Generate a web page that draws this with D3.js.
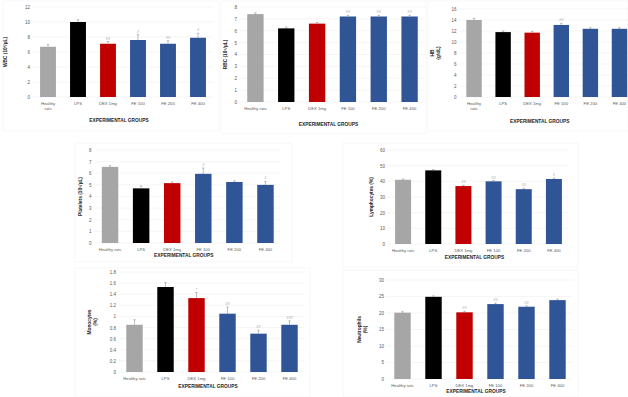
<!DOCTYPE html>
<html>
<head>
<meta charset="utf-8">
<script src="https://cdn.jsdelivr.net/npm/d3@7"></script>
<style>
  html, body { margin: 0; padding: 0; background: #fff; }
  svg { display: block; font-family: "Liberation Sans", Arial, sans-serif; }
</style>
</head>
<body>
<svg id="chart" width="628" height="397"></svg>
<script>
// Groups (same for every panel)
const groups = ['Healthy rats', 'LPS', 'DEX 1mg', 'FE 100', 'FE 200', 'FE 400'];
const groupColors = ['#a6a6a6', '#000000', '#c00000', '#2f5597', '#2f5597', '#2f5597'];
const xTitle = 'EXPERIMENTAL GROUPS';

// Values per panel
const wbcValues = [6.7, 10.0, 7.1, 7.6, 7.1, 7.9];
const wbcErrors = [0.3, 0.3, 0.3, 0.7, 0.4, 0.6];
const wbcMarks = ['', '', '##', '#', '##', '#'];
const wbcTicks = [0, 2, 4, 6, 8, 10, 12];

const rbcValues = [7.4, 6.2, 6.6, 7.2, 7.2, 7.2];
const rbcErrors = [0.1, 0.1, 0.1, 0.1, 0.1, 0.1];
const rbcMarks = ['', '', '', '##', '##', '##'];
const rbcTicks = [0, 1, 2, 3, 4, 5, 6, 7, 8];

const hbValues = [14.0, 11.8, 11.7, 13.1, 12.4, 12.4];
const hbErrors = [0.3, 0.2, 0.2, 0.3, 0.2, 0.2];
const hbMarks = ['', '', '', '##', '', ''];
const hbTicks = [0, 2, 4, 6, 8, 10, 12, 14, 16];

const pltValues = [6.55, 4.7, 5.15, 5.95, 5.25, 5.0];
const pltErrors = [0.1, 0.2, 0.1, 0.5, 0.1, 0.3];
const pltMarks = ['', '', '', '#', '', '#'];
const pltTicks = [0, 1, 2, 3, 4, 5, 6, 7, 8];

const lymValues = [41, 47, 37, 40, 35, 41.5];
const lymErrors = [0.5, 0.5, 0.5, 0.5, 0.5, 0.5];
const lymMarks = ['', '', '##', '##', '##', '#'];
const lymTicks = [0, 10, 20, 30, 40, 50, 60];

const monoValues = [0.85, 1.53, 1.33, 1.05, 0.69, 0.85];
const monoErrors = [0.09, 0.08, 0.1, 0.12, 0.06, 0.07];
const monoMarks = ['', '', '*', '##', '##', '###'];
const monoTicks = [0, 0.2, 0.4, 0.6, 0.8, 1, 1.2, 1.4, 1.6, 1.8];

const neuValues = [20.1, 24.9, 20.2, 22.7, 21.9, 23.9];
const neuErrors = [0.3, 0.3, 0.3, 0.3, 0.3, 0.3];
const neuMarks = ['', '', '##', '##', '##', ''];
const neuTicks = [0, 5, 10, 15, 20, 25, 30];

// Layout of each panel (page pixels)
const panels = [
  { values: wbcValues, errors: wbcErrors, marks: wbcMarks, ticks: wbcTicks, yTitle: ['WBC (10³/µL)'],
    frame: [3, 1, 216, 130], x0: 33, x1: 213, top: 7, bottom: 97, yTitleX: 7, titleDy: 25, wrap: true },
  { values: rbcValues, errors: rbcErrors, marks: rbcMarks, ticks: rbcTicks, yTitle: ['RBC (10⁶/µL)'],
    frame: [221, 1, 205, 133], x0: 240, x1: 425, top: 7, bottom: 102, yTitleX: 227, titleDy: 24, wrap: false },
  { values: hbValues, errors: hbErrors, marks: hbMarks, ticks: hbTicks, yTitle: ['HB', '(g/dL)'],
    frame: [428, 1, 200, 130], x0: 459.5, x1: 634, top: 9, bottom: 97, yTitleX: 434, titleDy: 26, wrap: true },
  { values: pltValues, errors: pltErrors, marks: pltMarks, ticks: pltTicks, yTitle: ['Platelets (10⁵/µL)'],
    frame: [75, 143, 217, 119], x0: 94.5, x1: 281, top: 150, bottom: 243, yTitleX: 82, titleDy: 14, wrap: false },
  { values: lymValues, errors: lymErrors, marks: lymMarks, ticks: lymTicks, yTitle: ['Lymphocytes (%)'],
    frame: [343, 143, 235, 124], x0: 388, x1: 569, top: 150, bottom: 244, yTitleX: 373, titleDy: 15, wrap: false },
  { values: monoValues, errors: monoErrors, marks: monoMarks, ticks: monoTicks, yTitle: ['Monocytes', '(%)'],
    frame: [75, 268, 235, 129], x0: 119, x1: 305, top: 272, bottom: 372, yTitleX: 91, titleDy: 16, wrap: false },
  { values: neuValues, errors: neuErrors, marks: neuMarks, ticks: neuTicks, yTitle: ['Neutrophils', '(%)'],
    frame: [343, 270, 235, 127], x0: 387, x1: 573, top: 280, bottom: 379, yTitleX: 361, titleDy: 14, wrap: false },
];

const svg = d3.select('#chart');

function drawPanel(p) {
  const g = svg.append('g').attr('class', 'panel');

  g.append('rect')
    .attr('x', p.frame[0]).attr('y', p.frame[1])
    .attr('width', p.frame[2]).attr('height', p.frame[3])
    .attr('fill', '#fff')
    .attr('stroke', '#f4f4f4')
    .attr('stroke-width', 0.8);

  const xScale = d3.scaleBand()
    .domain(groups)
    .range([p.x0, p.x1])
    .paddingInner(0.47)
    .paddingOuter(0.235);

  const yScale = d3.scaleLinear()
    .domain([0, d3.max(p.ticks)])
    .range([p.bottom, p.top]);

  // gridlines
  g.append('g')
    .selectAll('line')
    .data(p.ticks)
    .enter()
    .append('line')
    .attr('x1', p.x0)
    .attr('x2', Math.min(p.x1, 628))
    .attr('y1', d => yScale(d))
    .attr('y2', d => yScale(d))
    .attr('stroke', '#efefef')
    .attr('stroke-width', 0.6);

  // y axis
  const yAxis = d3.axisLeft(yScale)
    .tickValues(p.ticks)
    .tickSize(0)
    .tickPadding(3)
    .tickFormat(d3.format('~g'));

  const gy = g.append('g')
    .attr('transform', `translate(${p.x0}, 0)`)
    .call(yAxis);
  gy.select('.domain').remove();
  gy.selectAll('text')
    .attr('font-size', 4.5)
    .attr('fill', '#595959');

  // bars
  g.append('g')
    .selectAll('rect')
    .data(p.values)
    .enter()
    .append('rect')
    .attr('x', (d, i) => xScale(groups[i]))
    .attr('y', d => yScale(d))
    .attr('width', xScale.bandwidth())
    .attr('height', d => p.bottom - yScale(d))
    .attr('fill', (d, i) => groupColors[i]);

  // error bars
  const err = g.append('g')
    .selectAll('g')
    .data(p.values)
    .enter()
    .append('g')
    .attr('stroke', '#7f7f7f')
    .attr('stroke-width', 0.5);
  err.append('line')
    .attr('x1', (d, i) => xScale(groups[i]) + xScale.bandwidth() / 2)
    .attr('x2', (d, i) => xScale(groups[i]) + xScale.bandwidth() / 2)
    .attr('y1', d => yScale(d))
    .attr('y2', (d, i) => yScale(d + p.errors[i]));
  err.append('line')
    .attr('x1', (d, i) => xScale(groups[i]) + xScale.bandwidth() / 2 - 1.2)
    .attr('x2', (d, i) => xScale(groups[i]) + xScale.bandwidth() / 2 + 1.2)
    .attr('y1', (d, i) => yScale(d + p.errors[i]))
    .attr('y2', (d, i) => yScale(d + p.errors[i]));

  // significance marks
  g.append('g')
    .selectAll('text')
    .data(p.values)
    .enter()
    .append('text')
    .attr('x', (d, i) => xScale(groups[i]) + xScale.bandwidth() / 2)
    .attr('y', (d, i) => yScale(d + p.errors[i]) - 2)
    .attr('text-anchor', 'middle')
    .attr('font-size', 4)
    .attr('fill', '#7f7f7f')
    .text((d, i) => p.marks[i]);

  // x labels
  const xl = g.append('g')
    .selectAll('text')
    .data(groups)
    .enter()
    .append('text')
    .attr('x', d => xScale(d) + xScale.bandwidth() / 2)
    .attr('y', p.bottom + 8)
    .attr('text-anchor', 'middle')
    .attr('font-size', 4.2)
    .attr('fill', '#595959');
  xl.each(function (d) {
    const lines = p.wrap && d === 'Healthy rats' ? ['Healthy', 'rats'] : [d];
    d3.select(this).selectAll('tspan')
      .data(lines)
      .enter()
      .append('tspan')
      .attr('x', xScale(d) + xScale.bandwidth() / 2)
      .attr('dy', (t, j) => j === 0 ? 0 : 5)
      .text(t => t);
  });

  // x title
  g.append('text')
    .attr('x', (p.x0 + Math.min(p.x1, 628)) / 2 - 4)
    .attr('y', p.bottom + p.titleDy)
    .attr('text-anchor', 'middle')
    .attr('font-size', 4.8)
    .attr('font-weight', 'bold')
    .attr('fill', '#262626')
    .text(xTitle);

  // y title
  const yMid = (p.top + p.bottom) / 2;
  const yt = g.append('text')
    .attr('transform', `translate(${p.yTitleX}, ${yMid}) rotate(-90)`)
    .attr('text-anchor', 'middle')
    .attr('font-size', 4.8)
    .attr('font-weight', 'bold')
    .attr('fill', '#262626');
  yt.selectAll('tspan')
    .data(p.yTitle)
    .enter()
    .append('tspan')
    .attr('x', 0)
    .attr('dy', (t, j) => j === 0 ? 0 : 5.5)
    .text(t => t);
}

panels.forEach(drawPanel);
</script>
</body>
</html>
